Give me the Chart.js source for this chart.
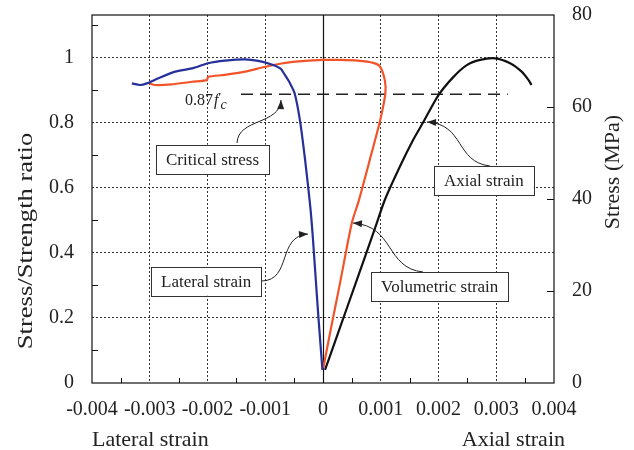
<!DOCTYPE html>
<html>
<head>
<meta charset="utf-8">
<script src="https://cdn.jsdelivr.net/npm/chart.js@4.4.0/dist/chart.umd.min.js"></script>
<style>
  body { margin: 0; background: #fff; }
  #wrap { width: 634px; height: 450px; }
</style>
</head>
<body>
<div id="wrap"><canvas id="stressCanvas" width="634" height="450"></canvas></div>
<script>
// strain vs stress/strength ratio
const lateralStrain = [-0.00001, -0.00008, -0.00013, -0.00018, -0.00022, -0.00031, -0.0004, -0.00049, -0.00057, -0.00066, -0.00074,
  -0.00089, -0.00112, -0.00135, -0.0017, -0.00199, -0.00227, -0.00256, -0.00285, -0.00305, -0.00317, -0.00331];
const lateralRatio = [0.04, 0.204, 0.33, 0.457, 0.541, 0.685, 0.807, 0.889, 0.92, 0.946, 0.966,
  0.978, 0.989, 0.994, 0.99, 0.982, 0.966, 0.956, 0.936, 0.92, 0.915, 0.92];

const volumetricStrain = [0.000005, 0.000121, 0.000294, 0.000497, 0.00062, 0.00081, 0.00099, 0.00108, 0.00107, 0.00099, 0.00087,
  0.0006, 0.0003, 0, -0.00048, -0.00072, -0.001, -0.00135, -0.0017, -0.00199, -0.00201, -0.00227, -0.00262, -0.00291, -0.003];
const volumetricRatio = [0.045, 0.153, 0.306, 0.49, 0.56, 0.685, 0.807, 0.889, 0.93, 0.971, 0.983,
  0.99, 0.992, 0.992, 0.987, 0.981, 0.971, 0.956, 0.946, 0.94, 0.93, 0.925, 0.917, 0.915, 0.92];

const axialStrain = [0.000035, 0.0003, 0.000565, 0.00091, 0.00107, 0.00133, 0.00156, 0.00174, 0.002, 0.00226, 0.00249,
  0.00272, 0.00298, 0.00324, 0.00344, 0.00356, 0.00361];
const axialRatio = [0.04, 0.173, 0.306, 0.48, 0.562, 0.664, 0.746, 0.802, 0.884, 0.94, 0.976,
  0.992, 0.997, 0.982, 0.956, 0.93, 0.915];

// dashed critical stress level
const criticalStrain = [-0.00142, 0.0032];
const criticalRatio = [0.887, 0.887];

// minor tick positions
const strainMinorTicks = [-0.0035, -0.0025, -0.0015, -0.0005, 0.0005, 0.0015, 0.0025, 0.0035];
const ratioMinorTicks = [0.1, 0.3, 0.5, 0.7, 0.9, 1.1];
const stressTicks = [20, 40, 60];

// callout boxes: centre (strain, ratio) and arrow bezier (start, cp1, cp2, end)
const callouts = [
  { text: 'Critical stress', x: -0.001913, y: 0.6872,
    arrow: [[-0.001489, 0.7369], [-0.001472, 0.8136], [-0.000745, 0.7921], [-0.000727, 0.8689]] },
  { text: 'Lateral strain', x: -0.002023, y: 0.3126,
    arrow: [[-0.001056, 0.3132], [-0.000537, 0.3162], [-0.000797, 0.4513], [-0.00026, 0.4575]] },
  { text: 'Axial strain', x: 0.002786, y: 0.6205,
    arrow: [[0.002892, 0.6663], [0.002286, 0.6785], [0.002459, 0.7952], [0.001801, 0.8014]] },
  { text: 'Volumetric strain', x: 0.002021, y: 0.2951,
    arrow: [[0.001732, 0.3408], [0.001074, 0.3531], [0.001247, 0.482], [0.000519, 0.4913]] }
];
const criticalLabel = { x: -0.00239, y: 0.8535 };

const serif = "'Liberation Serif', 'DejaVu Serif', serif";
Chart.defaults.font.family = serif;
Chart.defaults.color = '#222';

function zip(xs, ys) {
  return xs.map((x, i) => ({ x: x, y: ys[i] }));
}

function near(a, b) {
  return Math.abs(a - b) < 1e-9;
}

// keep the plot box where the figure has it
function noEdgePadding(s) {
  s.paddingTop = 0;
  s.paddingBottom = 0;
  s.paddingLeft = 0;
  s.paddingRight = 0;
}

const figurePlugin = {
  id: 'figure',
  beforeDatasetsDraw(chart) {
    const { ctx, chartArea: a, scales: { x } } = chart;
    const x0 = Math.round(x.getPixelForValue(0)) + 0.5;
    ctx.save();
    ctx.strokeStyle = '#111';
    ctx.lineWidth = 1.2;
    ctx.beginPath();
    ctx.moveTo(x0, a.top);
    ctx.lineTo(x0, a.bottom);
    ctx.stroke();
    ctx.restore();
  },
  afterDatasetsDraw(chart) {
    const { ctx, chartArea: a, scales: { x, y, y2 } } = chart;
    ctx.save();
    ctx.strokeStyle = '#111';
    ctx.lineWidth = 1.2;
    ctx.strokeRect(a.left, a.top, a.right - a.left, a.bottom - a.top);
    ctx.lineWidth = 1;
    ctx.beginPath();
    strainMinorTicks.forEach(v => {
      const p = Math.round(x.getPixelForValue(v)) + 0.5;
      ctx.moveTo(p, a.bottom);
      ctx.lineTo(p, a.bottom - 5);
    });
    ratioMinorTicks.forEach(v => {
      const p = Math.round(y.getPixelForValue(v)) + 0.5;
      ctx.moveTo(a.left, p);
      ctx.lineTo(a.left + 6, p);
    });
    stressTicks.forEach(v => {
      const p = Math.round(y2.getPixelForValue(v)) + 0.5;
      ctx.moveTo(a.right, p);
      ctx.lineTo(a.right - 7, p);
    });
    ctx.stroke();
    ctx.restore();
  },
  afterDraw(chart) {
    const { ctx, chartArea: a, scales: { x, y } } = chart;
    const P = (pt) => [x.getPixelForValue(pt[0]), y.getPixelForValue(pt[1])];
    ctx.save();

    // callouts
    callouts.forEach(c => {
      const [s, c1, c2, e] = c.arrow.map(P);
      ctx.strokeStyle = '#222';
      ctx.fillStyle = '#222';
      ctx.lineWidth = 1;
      ctx.beginPath();
      ctx.moveTo(s[0], s[1]);
      ctx.bezierCurveTo(c1[0], c1[1], c2[0], c2[1], e[0], e[1]);
      ctx.stroke();
      const ang = Math.atan2(e[1] - c2[1], e[0] - c2[0]);
      ctx.beginPath();
      ctx.moveTo(e[0], e[1]);
      ctx.lineTo(e[0] - 9 * Math.cos(ang) + 3.5 * Math.sin(ang), e[1] - 9 * Math.sin(ang) - 3.5 * Math.cos(ang));
      ctx.lineTo(e[0] - 9 * Math.cos(ang) - 3.5 * Math.sin(ang), e[1] - 9 * Math.sin(ang) + 3.5 * Math.cos(ang));
      ctx.closePath();
      ctx.fill();

      ctx.font = '17px ' + serif;
      const w = ctx.measureText(c.text).width + 20;
      const h = 29;
      const [cx, cy] = P([c.x, c.y]);
      ctx.fillStyle = '#fff';
      ctx.fillRect(cx - w / 2, cy - h / 2, w, h);
      ctx.strokeStyle = '#333';
      ctx.strokeRect(Math.round(cx - w / 2) + 0.5, Math.round(cy - h / 2) + 0.5, Math.round(w), h);
      ctx.fillStyle = '#222';
      ctx.textAlign = 'center';
      ctx.textBaseline = 'middle';
      ctx.fillText(c.text, cx, cy + 1);
    });

    // 0.87f'c label
    const [lx, ly] = P([criticalLabel.x, criticalLabel.y]);
    ctx.fillStyle = '#222';
    ctx.textAlign = 'left';
    ctx.textBaseline = 'alphabetic';
    ctx.font = '16px ' + serif;
    ctx.fillText('0.87', lx, ly);
    let cur = lx + ctx.measureText('0.87').width + 1;
    ctx.font = 'italic 16px ' + serif;
    ctx.fillText('f', cur, ly);
    cur += ctx.measureText('f').width + 1;
    ctx.font = '12px ' + serif;
    ctx.fillText('\u2032', cur - 1, ly - 4);
    ctx.font = 'italic 14px ' + serif;
    ctx.fillText('c', cur + 1, ly + 4);

    // axis titles
    ctx.font = '22px ' + serif;
    ctx.textBaseline = 'alphabetic';
    ctx.textAlign = 'left';
    ctx.fillText('Lateral strain', a.left, 446);
    ctx.textAlign = 'right';
    ctx.fillText('Axial strain', a.right + 11, 446);

    ctx.save();
    ctx.translate(27, 241);
    ctx.rotate(-Math.PI / 2);
    ctx.scale(1.33, 1);
    ctx.font = '20px ' + serif;
    ctx.textAlign = 'center';
    ctx.textBaseline = 'middle';
    ctx.fillText('Stress/Strength ratio', 0, 0);
    ctx.restore();

    ctx.save();
    ctx.translate(613, 172);
    ctx.rotate(-Math.PI / 2);
    ctx.font = '22px ' + serif;
    ctx.textAlign = 'center';
    ctx.textBaseline = 'middle';
    ctx.fillText('Stress (MPa)', 0, 0);
    ctx.restore();

    ctx.restore();
  }
};

const ctx = document.getElementById('stressCanvas').getContext('2d');
const chart = new Chart(ctx, {
  type: 'scatter',
  data: {
    datasets: [
      {
        label: 'Lateral strain',
        data: zip(lateralStrain, lateralRatio),
        borderColor: '#25309a',
        borderWidth: 2.2,
        showLine: true,
        pointRadius: 0,
        tension: 0.25,
      },
      {
        label: 'Volumetric strain',
        data: zip(volumetricStrain, volumetricRatio),
        borderColor: '#f2542a',
        borderWidth: 2.2,
        showLine: true,
        pointRadius: 0,
        tension: 0.25,
      },
      {
        label: 'Axial strain',
        data: zip(axialStrain, axialRatio),
        borderColor: '#111',
        borderWidth: 2.2,
        showLine: true,
        pointRadius: 0,
        tension: 0.25,
      },
      {
        label: 'Critical stress',
        data: zip(criticalStrain, criticalRatio),
        borderColor: '#222',
        borderWidth: 1.5,
        borderDash: [12, 7],
        showLine: true,
        pointRadius: 0,
      }
    ]
  },
  options: {
    responsive: false,
    animation: false,
    devicePixelRatio: 1,
    layout: { padding: { top: 15, left: 0, right: 0, bottom: 0 } },
    plugins: {
      legend: { display: false },
      tooltip: { enabled: false }
    },
    scales: {
      x: {
        type: 'linear',
        min: -0.004,
        max: 0.004,
        ticks: {
          stepSize: 0.001,
          padding: 15,
          autoSkip: false,
          maxRotation: 0,
          font: { size: 20 },
          callback: v => near(v, 0) ? '0' : v.toFixed(3)
        },
        grid: {
          drawTicks: false,
          lineWidth: 1,
          color: c => (near(c.tick.value, 0) || near(Math.abs(c.tick.value), 0.004)) ? 'rgba(0,0,0,0)' : '#333'
        },
        border: { display: false, dash: [2, 2] },
        afterFit: s => { s.height = 67; noEdgePadding(s); }
      },
      y: {
        min: 0,
        max: 1.13,
        ticks: {
          stepSize: 0.2,
          includeBounds: false,
          padding: 18,
          font: { size: 20 },
          callback: v => String(Number(v.toFixed(1)))
        },
        grid: {
          drawTicks: false,
          lineWidth: 1,
          color: c => near(c.tick.value, 0) ? 'rgba(0,0,0,0)' : '#333'
        },
        border: { display: false, dash: [2, 2] },
        afterFit: s => { s.width = 92; noEdgePadding(s); }
      },
      y2: {
        position: 'right',
        min: 0,
        max: 80,
        ticks: {
          stepSize: 20,
          padding: 18,
          font: { size: 20 }
        },
        grid: { display: false, drawTicks: false },
        border: { display: false },
        afterFit: s => { s.width = 80; noEdgePadding(s); }
      }
    }
  },
  plugins: [figurePlugin]
});
</script>
</body>
</html>
